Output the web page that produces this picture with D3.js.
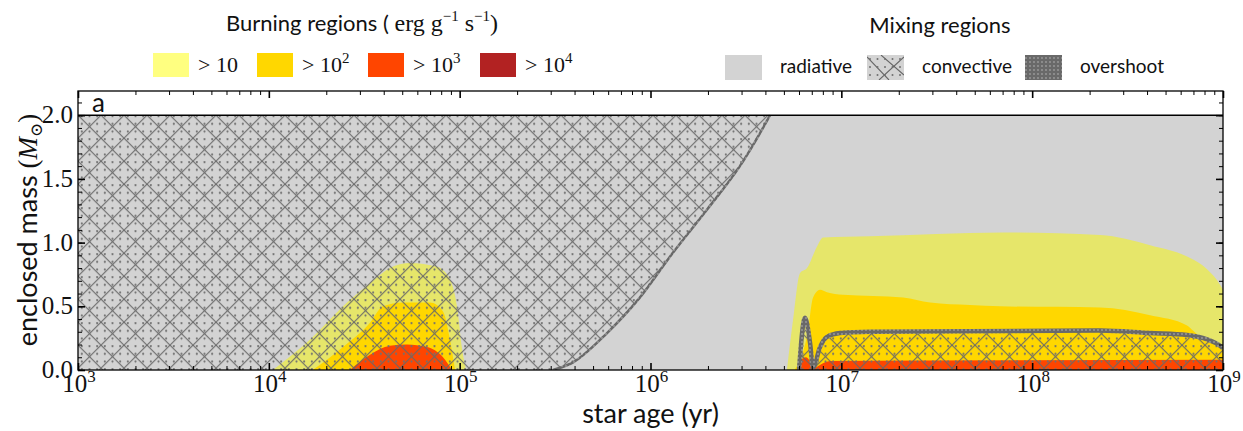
<!DOCTYPE html>
<html>
<head>
<meta charset="utf-8">
<script src="https://cdn.jsdelivr.net/npm/d3@7"></script>
<style>
body { margin: 0; background: #fff; }
svg { display: block; }
</style>
</head>
<body>
<svg id="chart" width="1243" height="431"></svg>
<script>
'use strict';

// total star mass (Msun)
var starMass = 2.0;

var ageTicks = [1e3, 1e4, 1e5, 1e6, 1e7, 1e8, 1e9];
var massTicks = [0, 0.5, 1.0, 1.5, 2.0];

// convective envelope: lower edge, from the start up to full radiative star
var convEnvAge = [1e3, 3.08e5, 3.93e5, 5.92e5, 8.81e5, 1.31e6, 1.98e6, 2.94e6, 3.75e6, 4.23e6];
var convEnvBottom = [0, 0, 0.06, 0.29, 0.57, 0.92, 1.26, 1.60, 1.86, 2.0];

// convective core on the main sequence: upper edge
var convCoreAge = [6.0e6, 6.45e6, 6.86e6, 7.11e6, 7.73e6, 8.41e6, 9.84e6, 1.41e7, 2.27e8, 4.15e8, 6.48e8, 8.25e8, 9.65e8, 1e9];
var convCoreTop = [0, 0.41, 0.21, 0.02, 0.18, 0.26, 0.29, 0.30, 0.31, 0.29, 0.275, 0.24, 0.19, 0.17];

// burning regions, deuterium burning phase
var dAge10 = [1.05e4, 1.70e4, 2.45e4, 3.39e4, 4.31e4, 5.49e4, 7.61e4, 8.90e4, 9.68e4, 1.03e5, 1.08e5];
var dTop10 = [0, 0.26, 0.50, 0.68, 0.80, 0.84, 0.81, 0.71, 0.50, 0.16, 0];
var dAge100 = [1.70e4, 2.45e4, 3.39e4, 3.96e4, 5.05e4, 7.00e4, 8.18e4, 8.90e4, 9.46e4];
var dTop100 = [0, 0.18, 0.37, 0.50, 0.53, 0.53, 0.46, 0.24, 0];
var dAge1000 = [2.66e4, 3.39e4, 4.31e4, 5.29e4, 6.74e4, 8.18e4, 9.12e4];
var dTop1000 = [0, 0.12, 0.19, 0.20, 0.18, 0.10, 0];

// burning regions, hydrogen burning phase
var hAge10 = [5.19e6, 5.58e6, 6.07e6, 6.61e6, 7.46e6, 8.02e6, 1.41e7, 7.03e7, 2.27e8, 4.15e8, 6.48e8, 8.25e8, 9.65e8, 1e9];
var hTop10 = [0, 0.39, 0.76, 0.80, 0.97, 1.04, 1.05, 1.08, 1.06, 0.98, 0.89, 0.79, 0.67, 0.63];
var hAge100 = [5.7e6, 6.69e6, 7.11e6, 7.73e6, 8.41e6, 1.02e7, 2.11e7, 2.92e7, 4.72e7, 6.79e7, 2.27e8, 4.15e8, 6.48e8, 6.96e8, 7.58e8, 9.65e8, 1e9];
var hTop100 = [0, 0.31, 0.57, 0.63, 0.61, 0.59, 0.57, 0.53, 0.51, 0.50, 0.49, 0.43, 0.35, 0.31, 0.26, 0.19, 0.17];
var hAge1000 = [5.86e6, 6.07e6, 6.53e6, 6.93e6, 7.28e6, 7.73e6, 8.73e6, 1e9];
var hTop1000 = [0, 0.07, 0.10, 0.06, 0.02, 0.04, 0.07, 0.08];

var burnLabels = ['10', '10', '10', '10'];
var burnExps = ['', '2', '3', '4'];
var burnLegendColors = ['#ffff80', '#ffd700', '#ff4500', '#b22222'];
var mixLabels = ['radiative', 'convective', 'overshoot'];

var sans = 'Lato, "Open Sans", sans-serif';
var serif = '"Liberation Serif", "DejaVu Serif", serif';
var plotYellow = '#e6e66a';

var plotLeft = 78, plotRight = 1223, plotTop = 91, plotBottom = 370;

var svg = d3.select('#chart');

var scaleX = d3.scaleLog().domain([1e3, 1e9]).range([plotLeft, plotRight]);
var scaleY = d3.scaleLinear().domain([0, 2.19]).range([plotBottom, plotTop]);

function zipPoints(ages, masses) {
    return ages.map(function (a, i) { return [a, masses[i]]; });
}

// patterns
var defs = svg.append('defs');
var cell = 23;

var conv = defs.append('pattern')
    .attr('id', 'convHatch')
    .attr('patternUnits', 'userSpaceOnUse')
    .attr('width', cell)
    .attr('height', cell)
    .attr('patternTransform', 'translate(' + plotLeft + ',' + scaleY(starMass) + ')');
[0, 1, 2].forEach(function (i) {
    [0, 1, 2].forEach(function (j) {
        conv.append('circle')
            .attr('cx', cell / 6 + i * cell / 3)
            .attr('cy', j * cell / 3 + 1)
            .attr('r', 1.1)
            .attr('fill', '#707070');
    });
});
conv.append('path')
    .attr('d', 'M0,0L23,23M23,0L0,23M-1,22L1,24M22,-1L24,1')
    .attr('stroke', '#686868')
    .attr('stroke-width', 1.1)
    .attr('fill', 'none');

var convSwatch = defs.append('pattern')
    .attr('id', 'convSwatch')
    .attr('patternUnits', 'userSpaceOnUse')
    .attr('width', 37)
    .attr('height', 25)
    .attr('patternTransform', 'translate(867,55)');
convSwatch.append('rect').attr('width', 37).attr('height', 25).attr('fill', '#d3d3d3');
convSwatch.append('path')
    .attr('d', 'M0,2L22,25M37,2L12,25M14,0L37,20')
    .attr('stroke', '#666').attr('stroke-width', 1.1).attr('fill', 'none');
[0, 1, 2, 3, 4].forEach(function (i) {
    [0, 1, 2].forEach(function (j) {
        convSwatch.append('circle')
            .attr('cx', 3 + i * 7.5)
            .attr('cy', 4 + j * 8)
            .attr('r', 1)
            .attr('fill', '#6f6f6f');
    });
});

var over = defs.append('pattern')
    .attr('id', 'overshoot')
    .attr('patternUnits', 'userSpaceOnUse')
    .attr('width', 4)
    .attr('height', 4);
over.append('rect').attr('width', 4).attr('height', 4).attr('fill', '#696969');
over.append('circle').attr('cx', 2).attr('cy', 2).attr('r', 0.9).attr('fill', '#9c9c9c');

var clip = defs.append('clipPath').attr('id', 'plotClip');
clip.append('rect')
    .attr('x', plotLeft).attr('y', plotTop)
    .attr('width', plotRight - plotLeft).attr('height', plotBottom - plotTop);

var plot = svg.append('g').attr('clip-path', 'url(#plotClip)');

// radiative star body
plot.append('path')
    .datum([[1e3, starMass], [1e9, starMass]])
    .attr('d', d3.area()
        .x(function (d) { return scaleX(d[0]); })
        .y0(scaleY(0))
        .y1(function (d) { return scaleY(d[1]); }))
    .attr('fill', '#d3d3d3');

var topArea = d3.area()
    .x(function (d) { return scaleX(d[0]); })
    .y0(scaleY(0))
    .y1(function (d) { return scaleY(d[1]); })
    .curve(d3.curveMonotoneX);

var burnLayers = [
    { pts: zipPoints(dAge10, dTop10), color: plotYellow },
    { pts: zipPoints(dAge100, dTop100), color: '#ffd700' },
    { pts: zipPoints(dAge1000, dTop1000), color: '#ff4500' },
    { pts: zipPoints(hAge10, hTop10), color: plotYellow },
    { pts: zipPoints(hAge100, hTop100), color: '#ffd700' },
    { pts: zipPoints(hAge1000, hTop1000), color: '#ff4500' }
];

burnLayers.forEach(function (layer) {
    plot.append('path')
        .datum(layer.pts)
        .attr('d', topArea)
        .attr('fill', layer.color);
});

// convective envelope
plot.append('path')
    .datum(zipPoints(convEnvAge, convEnvBottom))
    .attr('d', d3.area()
        .x(function (d) { return scaleX(d[0]); })
        .y0(function (d) { return scaleY(d[1]); })
        .y1(scaleY(starMass))
        .curve(d3.curveMonotoneX))
    .attr('fill', 'url(#convHatch)');

plot.append('path')
    .datum(zipPoints(convEnvAge, convEnvBottom).slice(1))
    .attr('d', d3.line()
        .x(function (d) { return scaleX(d[0]); })
        .y(function (d) { return scaleY(d[1]); })
        .curve(d3.curveMonotoneX))
    .attr('fill', 'none')
    .attr('stroke', 'url(#overshoot)')
    .attr('stroke-width', 2.5);

// convective core
plot.append('path')
    .datum(zipPoints(convCoreAge, convCoreTop))
    .attr('d', topArea)
    .attr('fill', 'url(#convHatch)');

plot.append('path')
    .datum(zipPoints(convCoreAge, convCoreTop))
    .attr('d', d3.line()
        .x(function (d) { return scaleX(d[0]); })
        .y(function (d) { return scaleY(d[1]); })
        .curve(d3.curveMonotoneX))
    .attr('fill', 'none')
    .attr('stroke', 'url(#overshoot)')
    .attr('stroke-width', 4.5);

// star surface
svg.append('line')
    .attr('x1', plotLeft).attr('x2', plotRight)
    .attr('y1', scaleY(starMass)).attr('y2', scaleY(starMass))
    .attr('stroke', '#000')
    .attr('stroke-width', 1.6);

// axes
var minorAge = [];
for (var e = 3; e < 9; e++) {
    for (var k = 2; k < 10; k++) minorAge.push(k * Math.pow(10, e));
}
var minorMass = d3.range(0, 22).map(function (i) { return i / 10; });

function styleAxis(g) {
    g.select('.domain').remove();
    g.selectAll('.tick line').attr('stroke', '#000');
}

function addAxis(axis, tx, ty, values, size, width) {
    svg.append('g')
        .attr('transform', 'translate(' + tx + ',' + ty + ')')
        .call(axis.tickValues(values).tickSize(-size).tickFormat(''))
        .call(styleAxis)
        .selectAll('.tick line').attr('stroke-width', width);
}

addAxis(d3.axisBottom(scaleX), 0, plotBottom, minorAge, 4, 1);
addAxis(d3.axisBottom(scaleX), 0, plotBottom, ageTicks, 7, 1.6);
addAxis(d3.axisTop(scaleX), 0, plotTop, minorAge, 4, 1);
addAxis(d3.axisTop(scaleX), 0, plotTop, ageTicks, 7, 1.6);
addAxis(d3.axisLeft(scaleY), plotLeft, 0, minorMass, 4, 1);
addAxis(d3.axisLeft(scaleY), plotLeft, 0, massTicks, 7, 1.6);
addAxis(d3.axisRight(scaleY), plotRight, 0, minorMass, 4, 1);
addAxis(d3.axisRight(scaleY), plotRight, 0, massTicks, 7, 1.6);

svg.append('rect')
    .attr('x', plotLeft).attr('y', plotTop)
    .attr('width', plotRight - plotLeft).attr('height', plotBottom - plotTop)
    .attr('fill', 'none')
    .attr('stroke', '#000')
    .attr('stroke-width', 1.3);

// tick labels
var xl = svg.append('g').attr('font-family', serif).attr('fill', '#111');
ageTicks.forEach(function (t) {
    var txt = xl.append('text')
        .attr('x', scaleX(t) + 1)
        .attr('y', plotBottom + 22)
        .attr('text-anchor', 'middle')
        .attr('font-size', 25);
    txt.append('tspan').text('10');
    txt.append('tspan')
        .attr('font-size', 17)
        .attr('dy', -10)
        .text(Math.round(Math.log10(t)));
});

var yl = svg.append('g').attr('font-family', serif).attr('fill', '#111');
massTicks.forEach(function (t) {
    yl.append('text')
        .attr('x', plotLeft - 5)
        .attr('y', scaleY(t) + 8)
        .attr('text-anchor', 'end')
        .attr('font-size', 25)
        .text(t.toFixed(1));
});

// axis titles
svg.append('text')
    .attr('x', (plotLeft + plotRight) / 2)
    .attr('y', 423)
    .attr('text-anchor', 'middle')
    .attr('font-family', sans)
    .attr('font-size', 27)
    .attr('fill', '#111')
    .text('star age (yr)');

var ylab = svg.append('text')
    .attr('transform', 'translate(37,230)rotate(-90)')
    .attr('text-anchor', 'middle')
    .attr('font-family', sans)
    .attr('font-size', 27)
    .attr('fill', '#111');
ylab.append('tspan').text('enclosed mass ');
ylab.append('tspan').attr('font-family', serif).text('(');
ylab.append('tspan').attr('font-family', serif).attr('font-style', 'italic').text('M');
ylab.append('tspan').attr('font-family', serif).attr('font-size', 17).attr('dy', 5).text('\u2299');
ylab.append('tspan').attr('font-family', serif).attr('dy', -5).text(')');

svg.append('text')
    .attr('x', 92)
    .attr('y', 112)
    .attr('font-family', sans)
    .attr('font-size', 26)
    .attr('fill', '#111')
    .text('a');

// legends
var burnTitle = svg.append('text')
    .attr('x', 362)
    .attr('y', 31)
    .attr('text-anchor', 'middle')
    .attr('font-size', 22)
    .attr('fill', '#111');
burnTitle.append('tspan').attr('font-family', sans).text('Burning regions ( ');
burnTitle.append('tspan').attr('font-family', serif).attr('font-size', 24).text('erg g');
burnTitle.append('tspan').attr('font-family', serif).attr('font-size', 15).attr('dy', -10).text('\u22121');
burnTitle.append('tspan').attr('font-family', serif).attr('font-size', 24).attr('dy', 10).text(' s');
burnTitle.append('tspan').attr('font-family', serif).attr('font-size', 15).attr('dy', -10).text('\u22121');
burnTitle.append('tspan').attr('font-family', serif).attr('font-size', 24).attr('dy', 10).text(')');

var burnX = [153, 257, 368, 480];
burnLabels.forEach(function (lab, i) {
    svg.append('rect')
        .attr('x', burnX[i]).attr('y', 53)
        .attr('width', 36).attr('height', 24)
        .attr('fill', burnLegendColors[i]);
    var t = svg.append('text')
        .attr('x', burnX[i] + 45)
        .attr('y', 72)
        .attr('font-family', serif)
        .attr('font-size', 22)
        .attr('fill', '#111');
    t.append('tspan').text('> ' + lab);
    if (burnExps[i]) {
        t.append('tspan').attr('font-size', 15).attr('dy', -9).text(burnExps[i]);
    }
});

svg.append('text')
    .attr('x', 940)
    .attr('y', 33)
    .attr('text-anchor', 'middle')
    .attr('font-family', sans)
    .attr('font-size', 22)
    .attr('fill', '#111')
    .text('Mixing regions');

var mixX = [725, 867, 1025];
var mixFill = ['#d3d3d3', 'url(#convSwatch)', 'url(#overshoot)'];
mixLabels.forEach(function (lab, i) {
    svg.append('rect')
        .attr('x', mixX[i]).attr('y', 55)
        .attr('width', 37).attr('height', 25)
        .attr('fill', mixFill[i]);
    svg.append('text')
        .attr('x', mixX[i] + 55)
        .attr('y', 73)
        .attr('font-family', sans)
        .attr('font-size', 19)
        .attr('fill', '#111')
        .text(lab);
});
</script>
</body>
</html>
